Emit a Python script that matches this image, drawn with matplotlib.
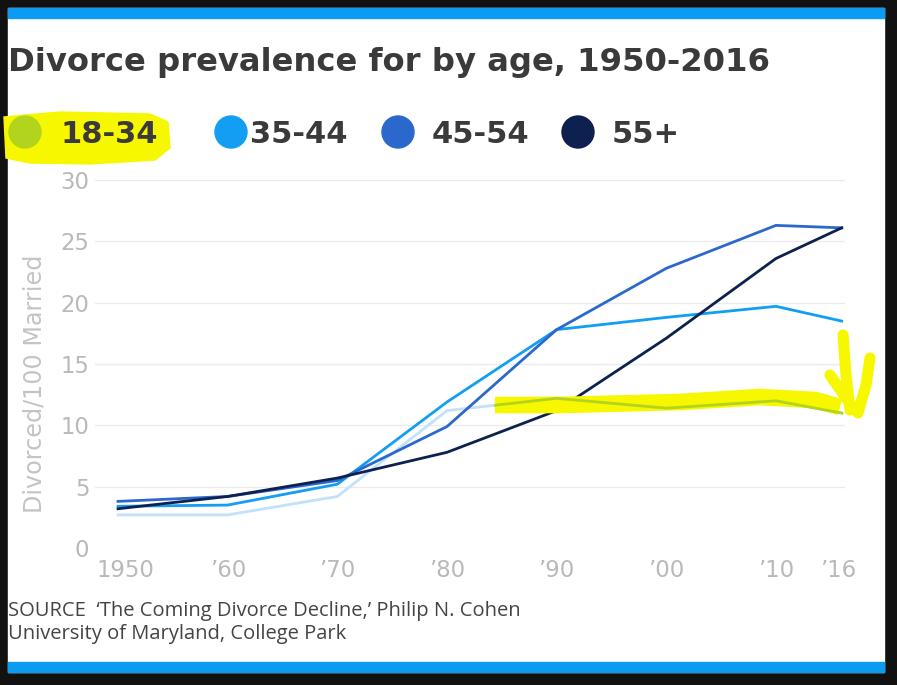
import numpy as np
import matplotlib
matplotlib.use('Agg')
import matplotlib.pyplot as plt
from matplotlib.patches import Rectangle, Circle, Polygon
from matplotlib.transforms import Affine2D, Bbox, TransformedBbox, ScaledTranslation
from matplotlib.lines import Line2D

# Data
years = [1950, 1960, 1970, 1980, 1990, 2000, 2010, 2016]
year_labels = ['1950', '\u201960', '\u201970', '\u201980', '\u201990', '\u201900', '\u201910', '\u201916']
age_18_34 = [2.7, 2.7, 4.2, 11.2, 12.2, 11.4, 12.0, 11.0]
age_35_44 = [3.4, 3.5, 5.2, 11.9, 17.8, 18.8, 19.7, 18.5]
age_45_54 = [3.8, 4.2, 5.5, 9.9, 17.8, 22.8, 26.3, 26.1]
age_55_up = [3.2, 4.2, 5.7, 7.8, 11.2, 17.1, 23.6, 26.1]
groups = ['18-34', '35-44', '45-54', '55+']
y_ticks = [0, 5, 10, 15, 20, 25, 30]

plt.rcParams['font.family'] = 'DejaVu Sans'

COL_18 = '#c2e1fa'; COL_35 = '#129ef2'; COL_45 = '#2b68cc'; COL_55 = '#0c2150'
COL_18_HL = '#b2d41c'   # light blue under the yellow marker
YELLOW = '#f7f700'; BAR = '#0b9bf0'; TXT = '#3a3a3a'; GREY = '#b9b9b9'

W, H = 897, 685
fig = plt.figure(figsize=(W / 100, H / 100), dpi=100, facecolor='#111111')
px = Affine2D().scale(1, -1).translate(0, H)   # pixel coords, origin top-left

fig.patches.append(Rectangle((8, 8), 876, 664, transform=px, color='white', zorder=-3))
fig.patches.append(Rectangle((8, 8), 876, 10, transform=px, color=BAR, zorder=-2))
fig.patches.append(Rectangle((8, 662), 876, 10, transform=px, color=BAR, zorder=-2))

fig.text(8, 71, 'Divorce prevalence for by age, 1950-2016', transform=px,
         fontsize=23.2, fontweight='bold', color=TXT, va='baseline')

# legend, with the marker scribble behind "18-34"
fig.patches.append(Polygon([(4, 117), (60, 112), (150, 114), (168, 122), (170, 148),
                            (155, 160), (90, 164), (30, 163), (6, 158)],
                           closed=True, transform=px, color=YELLOW, zorder=1))
leg_cols = [COL_18_HL, COL_35, COL_45, COL_55]
leg_cx = [25, 231, 398, 578]
leg_tx = [60, 250, 432, 612]
for name, col, cx, tx in zip(groups, leg_cols, leg_cx, leg_tx):
    fig.patches.append(Circle((cx, 132), 16, transform=px, color=col, zorder=2))
    fig.text(tx, 143, name, transform=px, fontsize=22, fontweight='bold',
             color=TXT, va='baseline', zorder=3)

# axes
x0, x1, ytop, ybot = 95, 845, 180, 548
ax = fig.add_axes([x0 / W, (H - ybot) / H, (x1 - x0) / W, (ybot - ytop) / H])
ax.set_facecolor('none')
ax.set_zorder(1)
ax.set_xlim(1947.9, 2016.3)
ax.set_ylim(0, 30)
for s in ax.spines.values():
    s.set_visible(False)
ax.set_yticks(y_ticks)
ax.set_xticks(years)
ax.set_xticklabels(year_labels)
ax.tick_params(axis='x', length=0, labelsize=16.4, labelcolor=GREY, pad=8)
ax.tick_params(axis='y', length=0, labelsize=16.4, labelcolor=GREY, pad=4)
first = ax.get_xticklabels()[0]
first.set_transform(first.get_transform() + ScaledTranslation(0.07, 0, fig.dpi_scale_trans))
last = ax.get_xticklabels()[-1]
last.set_transform(last.get_transform() + ScaledTranslation(-0.04, 0, fig.dpi_scale_trans))
ax.grid(axis='y', color='#ebebeb', lw=1)
ax.set_axisbelow(True)

lw = 2.0
ax.plot(years, age_18_34, color=COL_18, lw=lw, zorder=3, clip_on=False)
ax.plot(years, age_35_44, color=COL_35, lw=lw, zorder=4, clip_on=False)
ax.plot(years, age_45_54, color=COL_45, lw=lw, zorder=5, clip_on=False)
ax.plot(years, age_55_up, color=COL_55, lw=lw, zorder=6, clip_on=False)

# yellow marker stroke over the 18-34 line
hl = [(495, 405), (560, 405), (680, 402), (760, 397), (815, 400), (840, 407)]
ax.add_line(Line2D([p[0] for p in hl], [p[1] for p in hl], transform=px, color=YELLOW,
                   lw=12, solid_capstyle='butt', solid_joinstyle='round', zorder=7, clip_on=False))
green, = ax.plot(years, age_18_34, color=COL_18_HL, lw=lw, zorder=8)
green.set_clip_box(TransformedBbox(Bbox([[494, 380], [846, 430]]), px))
ax.add_line(Line2D([843, 846, 850], [335, 375, 410], transform=px, color=YELLOW,
                   lw=8, solid_capstyle='round', zorder=9, clip_on=False))
ax.add_line(Line2D([830, 846, 858, 866, 870], [375, 398, 413, 385, 358], transform=px,
                   color=YELLOW, lw=8, solid_capstyle='round', solid_joinstyle='round',
                   zorder=9, clip_on=False))

fig.text(35, 384, 'Divorced/100 Married', transform=px, rotation=90, fontsize=17.2,
         color='#c4c4c4', ha='center', va='center')

fig.text(8, 611, 'SOURCE  \u2018The Coming Divorce Decline,\u2019 Philip N. Cohen', transform=px,
         fontsize=14.5, family='Open Sans', color='#444444', va='center')
fig.text(8, 634, 'University of Maryland, College Park', transform=px,
         fontsize=14.5, family='Open Sans', color='#444444', va='center')

fig.savefig('out.png', dpi=100, facecolor=fig.get_facecolor())
